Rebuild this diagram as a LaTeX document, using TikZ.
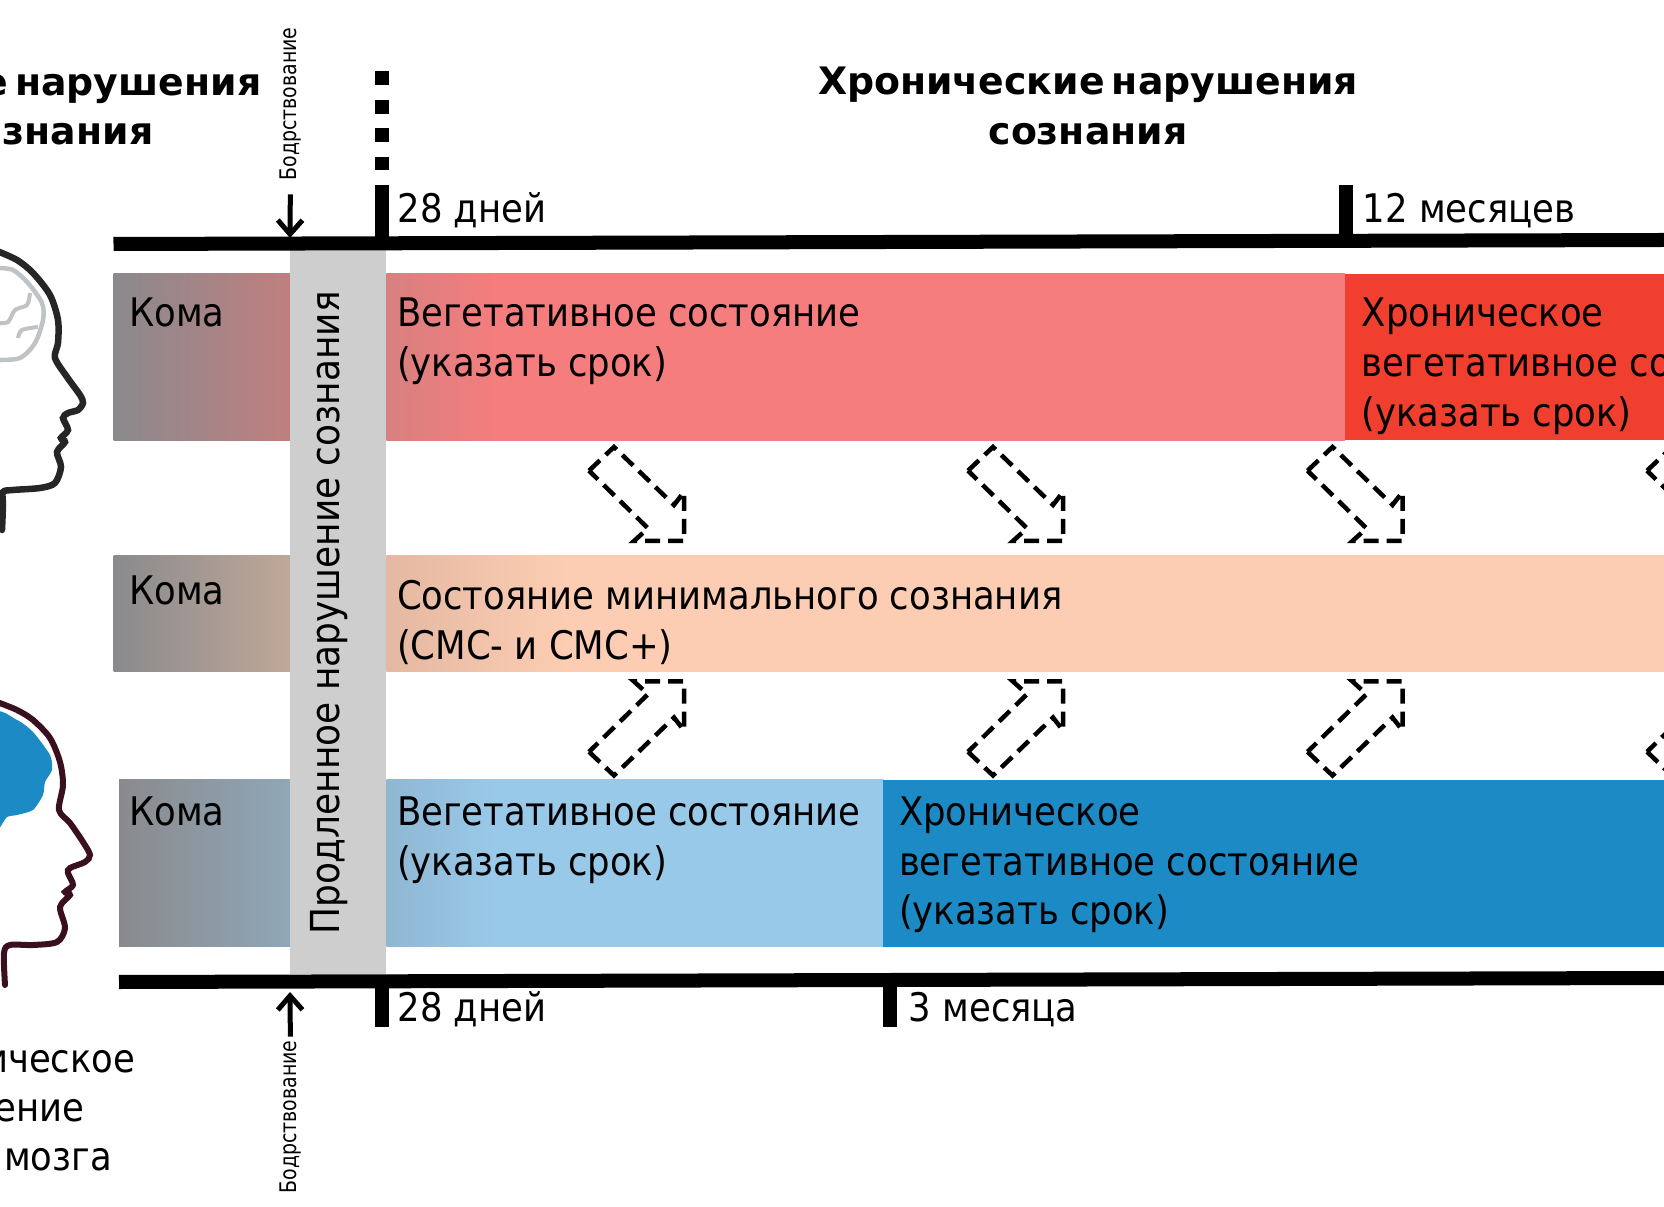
\documentclass[tikz,border=0pt]{standalone}
\usepackage{fontspec}
\setmainfont{DejaVu Sans Condensed}
\newfontfamily\titlefont[WordSpace=0.55]{DejaVu Sans}
\usetikzlibrary{arrows.meta,positioning}
\definecolor{chronred}{HTML}{F03F2F}
\definecolor{chronblue}{HTML}{1C8AC4}
\definecolor{midgray}{HTML}{CECECE}
\definecolor{headred}{HTML}{3A1020}
\definecolor{brainline}{HTML}{BFC3C6}
\definecolor{comagray}{HTML}{8A8A8D}
\definecolor{comared}{HTML}{BF7F80}
\definecolor{comapeach}{HTML}{BFA898}
\definecolor{comablue}{HTML}{8FA7B8}
\definecolor{redstart}{HTML}{D88080}
\definecolor{redend}{HTML}{F67D7D}
\definecolor{peachstart}{HTML}{E4B8A2}
\definecolor{peachend}{HTML}{FCCDB2}
\definecolor{bluestart}{HTML}{8FB7D2}
\definecolor{blueend}{HTML}{99C9E9}
\pgfdeclarehorizontalshading{vegred}{100bp}{color(0bp)=(redstart); color(25bp)=(redstart); color(31bp)=(redend); color(100bp)=(redend)}
\pgfdeclarehorizontalshading{minpeach}{100bp}{color(0bp)=(peachstart); color(25bp)=(peachstart); color(32bp)=(peachend); color(100bp)=(peachend)}
\pgfdeclarehorizontalshading{vegblue}{100bp}{color(0bp)=(bluestart); color(25bp)=(bluestart); color(36bp)=(blueend); color(100bp)=(blueend)}
\tikzset{
    band/.style={anchor=north west,inner sep=0pt,outer sep=0pt},
    rowtext/.style={anchor=north west,inner xsep=.10cm,inner ysep=.235cm,align=left,text=black,font=\fontsize{11.2}{14.15}\selectfont},
    timetext/.style={anchor=base west,inner sep=0pt,font=\fontsize{11.2}{14}\selectfont},
    titletext/.style={inner sep=0pt,align=center,font=\fontsize{10.75}{14.2}\selectfont\titlefont\bfseries},
    axisline/.style={line width=.14cm},
    wakeup/.style={rotate=90,xscale=.92,inner sep=1pt,font=\fontsize{6.5}{7}\selectfont},
    hollow/.style={line width=.045cm,dash pattern=on .15cm off .08cm,line join=miter},
    >={Straight Barb[length=4pt,width=7pt]}
}
\begin{document}
\begin{tikzpicture}[x=.01cm,y=-.01cm]
    \useasboundingbox (0,0) rectangle (1664,1207);
    \node[band,minimum width=1.762cm,minimum height=1.666cm,left color=comagray,right color=comared] (comaA) at (113.5,273.8) {};
    \node[band,minimum width=1.762cm,minimum height=1.157cm,left color=comagray,right color=comapeach] (comaB) at (113.5,556) {};
    \node[band,minimum width=1.708cm,minimum height=1.666cm,left color=comagray,right color=comablue] (comaC) at (119,780) {};
    \node[band,minimum width=.967cm,minimum height=7.246cm,fill=midgray] (prolonged) at (289.7,249.4) {};
    \node[band,minimum width=9.582cm,minimum height=1.666cm,shade,shading=vegred] (vegA) at (386.3,273.8) {};
    \node[band,minimum width=3.195cm,minimum height=1.666cm,fill=chronred,right=0pt of vegA] (chronA) {};
    \node[band,minimum width=12.777cm,minimum height=1.157cm,shade,shading=minpeach] (minC) at (386.3,556) {};
    \node[band,minimum width=4.967cm,minimum height=1.666cm,shade,shading=vegblue] (vegC) at (386.3,780) {};
    \node[band,minimum width=7.81cm,minimum height=1.666cm,fill=chronblue,right=0pt of vegC] (chronC) {};
    \coordinate (topL) at (113.5,244);
    \coordinate (topR) at (1664,240);
    \coordinate (botL) at (119,982);
    \coordinate (botR) at (1664,978);
    \draw[axisline] (topL) -- (topR);
    \draw[axisline] (botL) -- (botR);
    \draw[axisline] (381.5,184.6) -- (381.5,240);
    \draw[axisline] (1346,184.6) -- (1346,240);
    \draw[axisline] (381.5,980) -- (381.5,1027);
    \draw[axisline] (890,980) -- (890,1027);
    \draw[axisline,dash pattern=on .14cm off .145cm] (381.5,71) -- (381.5,170);
    \node[titletext] (chronTitle) at (1088,106) {Хронические нарушения\\сознания};
    \node[titletext,anchor=east] (acuteTitleA) at (262,89) {е нарушения};
    \node[titletext,anchor=east] (acuteTitleB) at (154,134) {знания};
    \node[timetext] (dayTop) at (397,223) {28 дней};
    \node[timetext] (monthTop) at (1362,223) {12 месяцев};
    \node[timetext] (dayBot) at (397,1021) {28 дней};
    \node[timetext] (monthBot) at (908,1021) {3 месяца};
    \node[rowtext,inner xsep=.15cm] at (comaA.north west) {Кома};
    \node[rowtext,inner xsep=.15cm,inner ysep=.195cm] at (comaB.north west) {Кома};
    \node[rowtext,inner xsep=.095cm,inner ysep=.16cm] at (comaC.north west) {Кома};
    \node[rowtext] at (vegA.north west) {Вегетативное состояние\\(указать срок)};
    \node[rowtext,inner xsep=.16cm] at (chronA.north west) {Хроническое\\вегетативное со\\(указать срок)};
    \node[rowtext] at (minC.north west) {Состояние минимального сознания\\(СМС- и СМС+)};
    \node[rowtext,inner ysep=.16cm] at (vegC.north west) {Вегетативное состояние\\(указать срок)};
    \node[rowtext,inner xsep=.15cm,inner ysep=.16cm] at (chronC.north west) {Хроническое\\вегетативное состояние\\(указать срок)};
    \node[rotate=90,inner sep=0pt,font=\fontsize{11.35}{14}\selectfont] (prolongedText) at (329,613) {Продленное нарушение сознания};
    \node[wakeup] (wakeTop) at (291,104) {Бодрствование};
    \node[wakeup] (wakeBot) at (291,1117) {Бодрствование};
    \coordinate (wakeTopEnd) at (290,238);
    \coordinate (wakeBotEnd) at (290,992);
    \draw[->,line width=.05cm,shorten <=.1cm] (wakeTop) -- (wakeTopEnd);
    \draw[->,line width=.05cm] (wakeBot) -- (wakeBotEnd);
    \foreach \dx in {0,379,718.5,1058} {
        \draw[hollow,shift={(\dx,0)}] (589,470.7) -- (614,447) -- (674,505) -- (684,492) -- (684,541) -- (634,541) -- (648,528.3) -- cycle;
        \draw[hollow,shift={(\dx,0)}] (589,751.8) -- (614,775.5) -- (674,717.5) -- (684,730.5) -- (684,681.5) -- (634,681.5) -- (648,694.2) -- cycle;
    }
    \draw[line width=.065cm,black!85,line cap=round] plot[smooth,tension=.5] coordinates {(-3,251) (17,260) (33,273) (50,295) (58,320) (58,343) (55,358) (67,377) (80,395) (83,403) (78,410) (68,413) (63,418) (68,430) (61,438) (65,442) (57,452) (61,467) (55,483) (40,488) (13,490) (3,492) (3,505) (2,530)};
    \draw[line width=.045cm,brainline] plot[smooth,tension=.5] coordinates {(-3,268) (13,270) (28,283) (42,303) (43,320) (35,343) (20,358) (-3,360)};
    \draw[line width=.04cm,brainline] plot[smooth,tension=.5] coordinates {(-3,323) (8,322) (15,310) (27,305) (30,293)};
    \draw[line width=.04cm,brainline] plot[smooth,tension=.5] coordinates {(18,338) (22,330) (38,327)};
    \fill[chronblue] plot[smooth cycle,tension=.4] coordinates {(-6,716) (17,720) (33,732) (50,755) (52,770) (45,782) (43,795) (33,810) (17,815) (7,817) (-6,828)};
    \draw[line width=.06cm,headred,line cap=round] plot[smooth,tension=.5] coordinates {(-3,702) (17,710) (33,720) (50,738) (60,762) (63,785) (59,810) (70,823) (83,842) (90,855) (85,862) (70,868) (68,873) (73,885) (65,892) (70,895) (60,907) (65,928) (57,942) (33,945) (10,945) (4,953) (5,985)};
    \node[timetext,anchor=base east] (injuryA) at (136,1072) {ическое};
    \node[timetext,anchor=base east] (injuryB) at (85,1121) {ение};
    \node[timetext,anchor=base east] (injuryC) at (112.5,1170) {мозга};
\end{tikzpicture}
\end{document}
